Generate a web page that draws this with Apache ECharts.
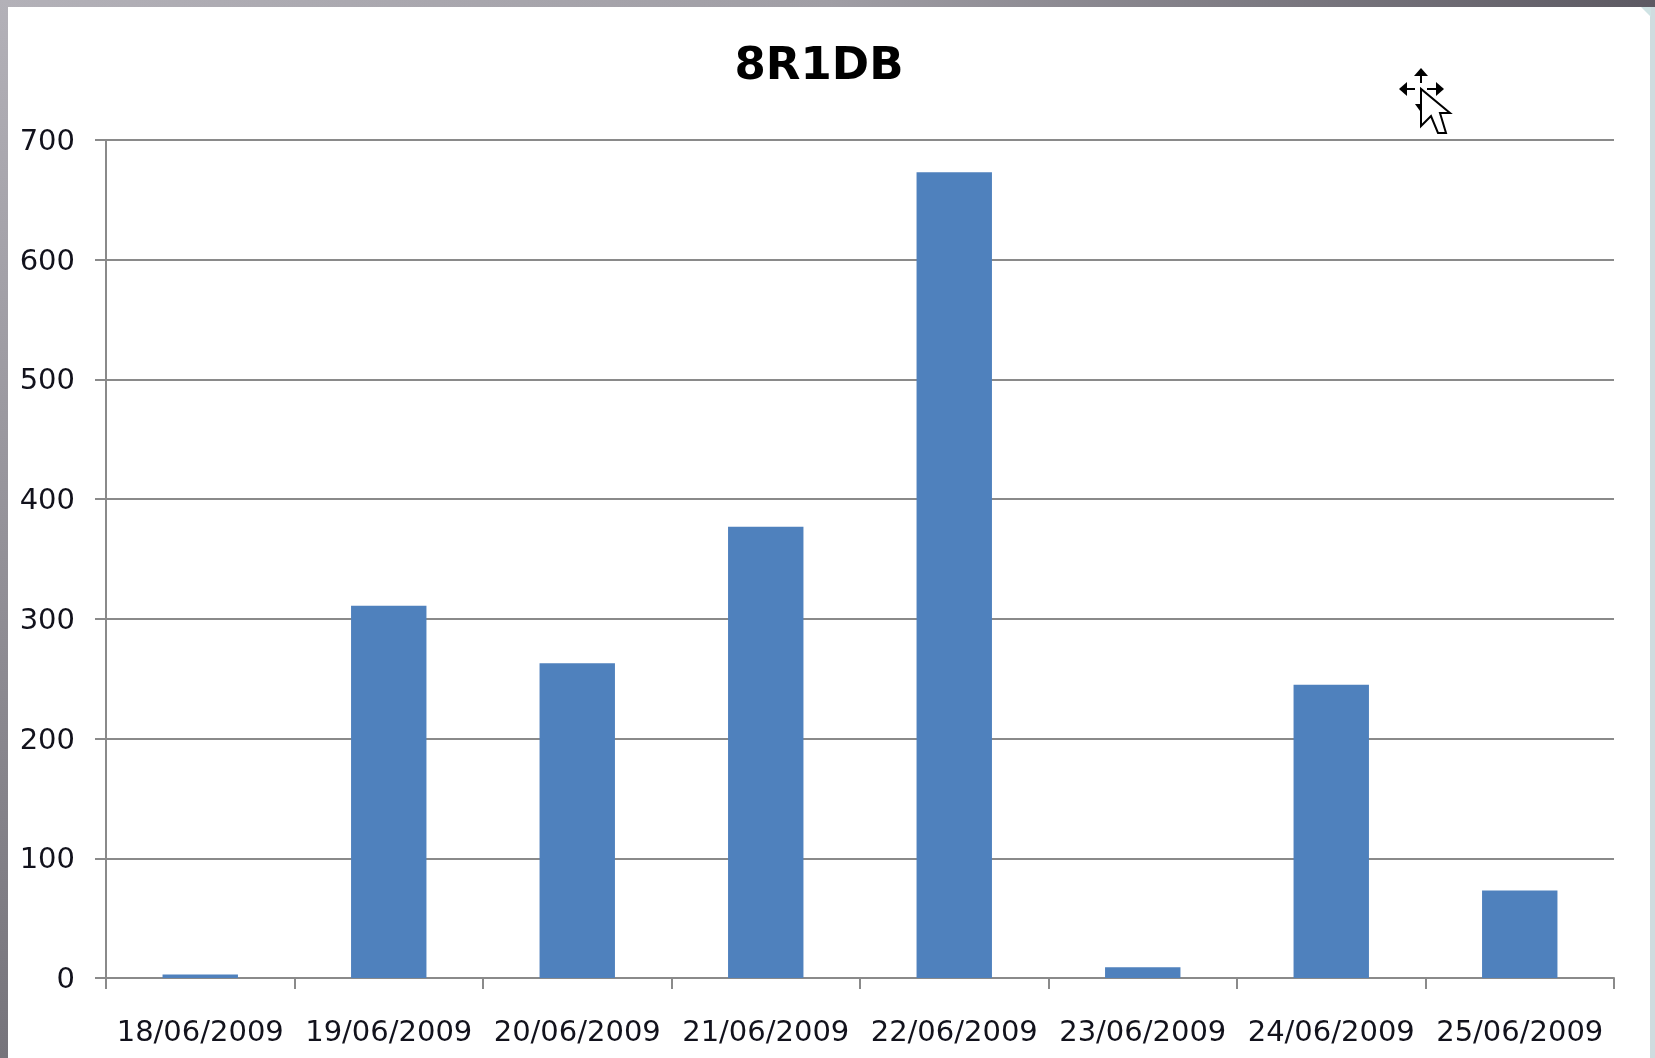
<!DOCTYPE html>
<html><head><meta charset="utf-8">
<style>html,body{margin:0;padding:0;background:#fff;overflow:hidden}#c{width:1655px;height:1058px}</style>
<script src="https://cdn.jsdelivr.net/npm/echarts@6/dist/echarts.min.js"></script>
</head><body><div id="c"></div>
<script>
const categories=['18/06/2009','19/06/2009','20/06/2009','21/06/2009','22/06/2009','23/06/2009','24/06/2009','25/06/2009'];
const values=[3,311,263,377,673,9,245,73];
const yTicks=[0,100,200,300,400,500,600,700];
const titleText='8R1DB';
const chart=echarts.init(document.getElementById('c'),null,{renderer:'canvas'});
const ink='#12121c', line='#8a8a8a', F='"DejaVu Sans"';
chart.setOption({
  animation:false,
  backgroundColor:'#ffffff',
  title:{text:titleText,left:814,top:40,textAlign:'center',textStyle:{fontFamily:F,fontSize:45,fontWeight:'bold',color:'#000'}},
  grid:{left:106,right:41,top:140,bottom:80,containLabel:false},
  xAxis:{type:'category',data:categories,boundaryGap:true,
    axisLine:{show:true,onZero:true,lineStyle:{color:line,width:2}},
    axisTick:{show:true,alignWithLabel:false,length:11,lineStyle:{color:line,width:2}},
    axisLabel:{color:ink,fontFamily:F,fontSize:29,margin:41,interval:0}},
  yAxis:{type:'value',min:0,max:700,interval:100,
    axisLine:{show:true,lineStyle:{color:line,width:2}},
    axisTick:{show:true,length:11,lineStyle:{color:line,width:2}},
    splitLine:{show:true,lineStyle:{color:line,width:2}},
    axisLabel:{color:ink,fontFamily:F,fontSize:29,margin:31,verticalAlign:'top',lineHeight:5,
      formatter:v=>yTicks.includes(v)?String(v):''}},
  series:[{type:'bar',data:values,barWidth:'40%',itemStyle:{color:'#4f81bd'}}],
  graphic:[
    {type:'rect',silent:true,z:100,shape:{x:0,y:0,width:1655,height:7},
      style:{fill:new echarts.graphic.LinearGradient(0,0,1,0,[{offset:0,color:'#b3b1b8'},{offset:.5,color:'#a09ea5'},{offset:1,color:'#5c5962'}])}},
    {type:'rect',silent:true,z:100,shape:{x:0,y:0,width:8,height:1058},
      style:{fill:new echarts.graphic.LinearGradient(0,0,0,1,[{offset:0,color:'#b3b1b8'},{offset:1,color:'#76747b'}])}},
    {type:'rect',silent:true,z:100,shape:{x:1650,y:7,width:5,height:1051},style:{fill:'#cfdcdf'}},
    {type:'polygon',silent:true,z:100,shape:{points:[[1641,7],[1651,7],[1651,17]]},style:{fill:'#cfe3e4'}},
    {type:'group',silent:true,z:100,x:1421,y:66,children:[
      {type:'polygon',shape:{points:[[0,23],[0,60],[10,50],[17,67],[25,67],[19,47],[29,47]]},style:{fill:'#fff',stroke:'#000',lineWidth:2}},
      {type:'polygon',shape:{points:[[0,2],[-7,10],[7,10]]},style:{fill:'#000'}},
      {type:'polygon',shape:{points:[[-22,23],[-14,16],[-14,30]]},style:{fill:'#000'}},
      {type:'polygon',shape:{points:[[23,23],[15,16],[15,30]]},style:{fill:'#000'}},
      {type:'polygon',shape:{points:[[-6,38],[-1,38],[-1,45]]},style:{fill:'#000'}},
      {type:'line',shape:{x1:0,y1:9,x2:0,y2:17},style:{stroke:'#000',lineWidth:2}},
      {type:'line',shape:{x1:-15,y1:23,x2:-6,y2:23},style:{stroke:'#000',lineWidth:2}},
      {type:'line',shape:{x1:6,y1:23,x2:15,y2:23},style:{stroke:'#000',lineWidth:2}}
    ]}
  ]
});
</script></body></html>
